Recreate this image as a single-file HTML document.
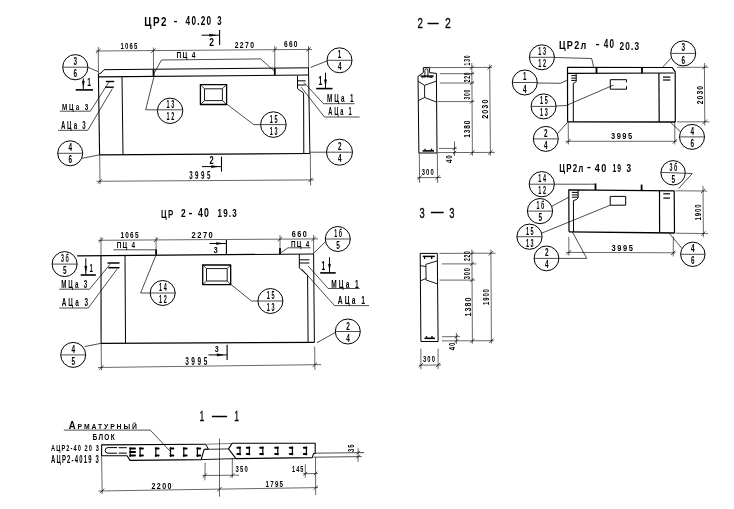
<!DOCTYPE html>
<html lang="ru"><head><meta charset="utf-8"><title>ЦР2</title>
<style>
html,body{margin:0;padding:0;background:#fff;}
svg{display:block;will-change:transform;font-family:"Liberation Sans",sans-serif;fill:#000;}
</style></head><body>
<svg width="734" height="509" viewBox="0 0 734 509">
<rect x="0" y="0" width="734" height="509" fill="#fff"/>
<text font-weight="bold"><tspan x="144.3" y="26.0" font-size="11.94" letter-spacing="1.79" textLength="23.7" lengthAdjust="spacingAndGlyphs">ЦР2</tspan> <tspan x="173.4" y="24.0" font-size="11.80" textLength="4.0" lengthAdjust="spacingAndGlyphs">-</tspan> <tspan x="185.6" y="25.0" font-size="13.53" letter-spacing="2.03" textLength="26.8" lengthAdjust="spacingAndGlyphs">40.20</tspan> <tspan x="217.2" y="25.0" font-size="12.95" textLength="4.3" lengthAdjust="spacingAndGlyphs">3</tspan></text>
<line x1="219.6" y1="30.0" x2="219.6" y2="45.0" stroke="#000" stroke-width="1.1"/>
<line x1="201.6" y1="35.2" x2="219.6" y2="35.2" stroke="#000" stroke-width="1.0"/>
<polygon points="209.6,34.1 209.6,36.3 215.6,35.2" fill="#000" stroke="#000" stroke-width="0.5" stroke-linejoin="round"/>
<text x="209.3" y="46.0" font-size="10.94" font-weight="bold" letter-spacing="2.19" textLength="6.4" lengthAdjust="spacingAndGlyphs">2</text>
<line x1="95.8" y1="51.0" x2="312.0" y2="49.4" stroke="#000" stroke-width="0.6"/>
<line x1="98.3" y1="47.0" x2="98.4" y2="74.0" stroke="#000" stroke-width="0.6"/>
<line x1="153.4" y1="47.5" x2="153.5" y2="70.0" stroke="#000" stroke-width="0.6"/>
<line x1="274.8" y1="46.0" x2="274.8" y2="68.5" stroke="#000" stroke-width="0.6"/>
<line x1="308.5" y1="46.0" x2="308.6" y2="68.0" stroke="#000" stroke-width="0.6"/>
<line x1="96.1" y1="53.2" x2="100.5" y2="48.8" stroke="#000" stroke-width="0.7"/>
<line x1="151.2" y1="52.8" x2="155.6" y2="48.4" stroke="#000" stroke-width="0.7"/>
<line x1="272.6" y1="51.9" x2="277.0" y2="47.5" stroke="#000" stroke-width="0.7"/>
<line x1="306.3" y1="51.6" x2="310.7" y2="47.2" stroke="#000" stroke-width="0.7"/>
<text x="120.4" y="49.0" font-size="9.35" font-weight="bold" letter-spacing="1.87" textLength="18.2" lengthAdjust="spacingAndGlyphs">1065</text>
<text x="234.7" y="48.0" font-size="9.06" font-weight="bold" letter-spacing="1.81" textLength="20.6" lengthAdjust="spacingAndGlyphs">2270</text>
<text x="284.0" y="47.0" font-size="9.06" font-weight="bold" letter-spacing="1.81" textLength="14.8" lengthAdjust="spacingAndGlyphs">660</text>
<polyline points="98.5,74.2 100.9,73.1 104.0,69.7 308.6,67.8" fill="none" stroke="#000" stroke-width="1.0" stroke-linejoin="round"/>
<line x1="98.4" y1="76.9" x2="308.6" y2="75.0" stroke="#000" stroke-width="1.2"/>
<line x1="98.4" y1="74.0" x2="99.6" y2="154.8" stroke="#000" stroke-width="1.1"/>
<line x1="122.0" y1="76.8" x2="123.0" y2="154.6" stroke="#000" stroke-width="1.0"/>
<line x1="99.6" y1="154.8" x2="310.0" y2="153.5" stroke="#000" stroke-width="1.2"/>
<line x1="303.6" y1="93.0" x2="303.8" y2="153.5" stroke="#000" stroke-width="1.0"/>
<line x1="308.5" y1="67.8" x2="309.9" y2="153.5" stroke="#000" stroke-width="1.0"/>
<line x1="297.5" y1="75.8" x2="297.5" y2="88.6" stroke="#000" stroke-width="1.0"/>
<line x1="297.5" y1="80.8" x2="305.6" y2="80.8" stroke="#000" stroke-width="1.0"/>
<line x1="297.5" y1="85.0" x2="305.6" y2="85.0" stroke="#000" stroke-width="1.0"/>
<line x1="297.5" y1="88.6" x2="303.5" y2="93.0" stroke="#000" stroke-width="1.0"/>
<line x1="153.5" y1="69.4" x2="153.6" y2="76.8" stroke="#000" stroke-width="1.8"/>
<line x1="274.8" y1="68.3" x2="274.8" y2="74.9" stroke="#000" stroke-width="1.8"/>
<text x="176.4" y="58.0" font-size="8.78" font-weight="bold" letter-spacing="1.76" textLength="20.4" lengthAdjust="spacingAndGlyphs">ПЦ 4</text>
<polyline points="153.9,73.7 161.5,60.0 260.6,58.9 273.9,70.7" fill="none" stroke="#000" stroke-width="0.7" stroke-linejoin="round"/>
<polygon points="200.4,84.6 226.6,84.6 226.6,104.5 200.4,104.5" fill="none" stroke="#000" stroke-width="1.3" stroke-linejoin="round"/>
<polygon points="204.5,88.8 222.4,88.8 222.4,100.6 204.5,100.6" fill="none" stroke="#000" stroke-width="0.9" stroke-linejoin="round"/>
<line x1="200.4" y1="84.6" x2="204.5" y2="88.8" stroke="#000" stroke-width="0.8"/>
<line x1="226.6" y1="84.6" x2="222.4" y2="88.8" stroke="#000" stroke-width="0.8"/>
<line x1="226.6" y1="104.5" x2="222.4" y2="100.6" stroke="#000" stroke-width="0.8"/>
<line x1="200.4" y1="104.5" x2="204.5" y2="100.6" stroke="#000" stroke-width="0.8"/>
<line x1="105.8" y1="81.5" x2="114.2" y2="81.5" stroke="#000" stroke-width="1.4"/>
<line x1="105.3" y1="87.2" x2="113.7" y2="87.2" stroke="#000" stroke-width="1.4"/>
<circle cx="75.3" cy="67.2" r="12.6" fill="none" stroke="#000" stroke-width="1.0"/>
<line x1="62.7" y1="67.2" x2="87.9" y2="67.2" stroke="#000" stroke-width="0.7"/>
<text x="73.6" y="65.0" font-size="10.50" font-weight="bold" letter-spacing="3.15" textLength="5.5" lengthAdjust="spacingAndGlyphs">3</text>
<text x="73.6" y="77.0" font-size="10.50" font-weight="bold" letter-spacing="3.15" textLength="5.5" lengthAdjust="spacingAndGlyphs">6</text>
<line x1="87.9" y1="67.3" x2="98.6" y2="71.8" stroke="#000" stroke-width="0.7"/>
<circle cx="339.5" cy="60.3" r="12.5" fill="none" stroke="#000" stroke-width="1.0"/>
<line x1="327.0" y1="60.3" x2="352.0" y2="60.3" stroke="#000" stroke-width="0.7"/>
<text x="337.8" y="58.0" font-size="10.50" font-weight="bold" letter-spacing="3.15" textLength="5.3" lengthAdjust="spacingAndGlyphs">1</text>
<text x="337.9" y="70.0" font-size="10.50" font-weight="bold" letter-spacing="3.15" textLength="5.5" lengthAdjust="spacingAndGlyphs">4</text>
<line x1="327.0" y1="61.0" x2="310.6" y2="67.4" stroke="#000" stroke-width="0.7"/>
<circle cx="170.1" cy="110.8" r="12.7" fill="none" stroke="#000" stroke-width="1.0"/>
<line x1="145.7" y1="109.8" x2="182.8" y2="109.8" stroke="#000" stroke-width="0.7"/>
<text x="166.5" y="108.0" font-size="10.50" font-weight="bold" letter-spacing="3.15" textLength="9.4" lengthAdjust="spacingAndGlyphs">13</text>
<text x="166.5" y="120.0" font-size="10.50" font-weight="bold" letter-spacing="3.15" textLength="9.4" lengthAdjust="spacingAndGlyphs">12</text>
<line x1="145.7" y1="109.7" x2="153.9" y2="76.8" stroke="#000" stroke-width="0.7"/>
<circle cx="273.4" cy="124.6" r="12.8" fill="none" stroke="#000" stroke-width="1.0"/>
<line x1="253.7" y1="124.6" x2="286.2" y2="124.6" stroke="#000" stroke-width="0.7"/>
<text x="269.8" y="123.0" font-size="10.50" font-weight="bold" letter-spacing="3.15" textLength="9.4" lengthAdjust="spacingAndGlyphs">15</text>
<text x="269.8" y="135.0" font-size="10.50" font-weight="bold" letter-spacing="3.15" textLength="9.4" lengthAdjust="spacingAndGlyphs">13</text>
<line x1="253.7" y1="124.6" x2="227.0" y2="104.3" stroke="#000" stroke-width="0.7"/>
<circle cx="70.2" cy="153.3" r="12.5" fill="none" stroke="#000" stroke-width="1.0"/>
<line x1="57.7" y1="153.3" x2="82.7" y2="153.3" stroke="#000" stroke-width="0.7"/>
<text x="68.5" y="151.0" font-size="10.50" font-weight="bold" letter-spacing="3.15" textLength="5.5" lengthAdjust="spacingAndGlyphs">4</text>
<text x="68.5" y="163.0" font-size="10.50" font-weight="bold" letter-spacing="3.15" textLength="5.5" lengthAdjust="spacingAndGlyphs">6</text>
<line x1="82.2" y1="158.3" x2="99.6" y2="154.8" stroke="#000" stroke-width="0.7"/>
<circle cx="339.5" cy="152.2" r="13.0" fill="none" stroke="#000" stroke-width="1.0"/>
<line x1="310.0" y1="152.2" x2="352.5" y2="152.2" stroke="#000" stroke-width="0.7"/>
<text x="337.9" y="150.0" font-size="10.50" font-weight="bold" letter-spacing="3.15" textLength="5.5" lengthAdjust="spacingAndGlyphs">2</text>
<text x="337.9" y="162.0" font-size="10.50" font-weight="bold" letter-spacing="3.15" textLength="5.5" lengthAdjust="spacingAndGlyphs">4</text>
<line x1="83.3" y1="78.4" x2="83.3" y2="89.9" stroke="#000" stroke-width="1.0"/>
<polygon points="82.2,81.1 84.4,81.1 83.3,86.1" fill="#000" stroke="#000" stroke-width="0.5" stroke-linejoin="round"/>
<line x1="75.7" y1="89.9" x2="93.0" y2="89.9" stroke="#000" stroke-width="1.6"/>
<text x="87.2" y="86.0" font-size="11.51" font-weight="bold" letter-spacing="2.30" textLength="5.0" lengthAdjust="spacingAndGlyphs">1</text>
<line x1="325.5" y1="72.7" x2="325.5" y2="88.6" stroke="#000" stroke-width="1.0"/>
<polygon points="324.4,79.8 326.6,79.8 325.5,84.8" fill="#000" stroke="#000" stroke-width="0.5" stroke-linejoin="round"/>
<line x1="316.2" y1="88.6" x2="332.5" y2="88.6" stroke="#000" stroke-width="1.6"/>
<text x="318.5" y="85.0" font-size="12.23" font-weight="bold" letter-spacing="2.45" textLength="5.1" lengthAdjust="spacingAndGlyphs">1</text>
<text x="62.0" y="110.0" font-size="9.50" font-weight="bold" letter-spacing="2.85" textLength="28.1" lengthAdjust="spacingAndGlyphs">МЦа 3</text>
<line x1="59.8" y1="111.2" x2="90.3" y2="111.2" stroke="#000" stroke-width="0.7"/>
<line x1="90.3" y1="111.2" x2="109.3" y2="81.5" stroke="#000" stroke-width="0.7"/>
<text x="60.9" y="129.0" font-size="10.50" font-weight="bold" letter-spacing="3.15" textLength="26.7" lengthAdjust="spacingAndGlyphs">АЦа 3</text>
<line x1="58.0" y1="130.3" x2="87.8" y2="130.3" stroke="#000" stroke-width="0.7"/>
<line x1="87.8" y1="130.2" x2="112.4" y2="88.6" stroke="#000" stroke-width="0.7"/>
<text x="327.0" y="102.0" font-size="10.07" font-weight="bold" letter-spacing="3.02" textLength="28.5" lengthAdjust="spacingAndGlyphs">МЦа 1</text>
<line x1="323.4" y1="103.7" x2="354.5" y2="103.7" stroke="#000" stroke-width="0.7"/>
<line x1="323.4" y1="103.7" x2="303.9" y2="82.4" stroke="#000" stroke-width="0.7"/>
<text x="328.3" y="115.0" font-size="10.50" font-weight="bold" letter-spacing="3.15" textLength="25.1" lengthAdjust="spacingAndGlyphs">АЦа 1</text>
<line x1="324.4" y1="117.0" x2="359.6" y2="117.0" stroke="#000" stroke-width="0.7"/>
<line x1="324.4" y1="117.0" x2="301.2" y2="87.2" stroke="#000" stroke-width="0.7"/>
<line x1="99.7" y1="154.8" x2="100.0" y2="184.2" stroke="#000" stroke-width="0.6"/>
<line x1="310.3" y1="153.5" x2="310.6" y2="185.5" stroke="#000" stroke-width="0.6"/>
<line x1="96.5" y1="181.3" x2="314.0" y2="179.9" stroke="#000" stroke-width="0.6"/>
<line x1="97.7" y1="183.5" x2="102.1" y2="179.1" stroke="#000" stroke-width="0.7"/>
<line x1="308.3" y1="182.2" x2="312.7" y2="177.8" stroke="#000" stroke-width="0.7"/>
<text x="189.2" y="179.0" font-size="10.07" font-weight="bold" letter-spacing="4.03" textLength="23.6" lengthAdjust="spacingAndGlyphs">3995</text>
<line x1="221.5" y1="156.6" x2="221.5" y2="171.6" stroke="#000" stroke-width="1.1"/>
<line x1="202.0" y1="166.6" x2="221.5" y2="166.6" stroke="#000" stroke-width="1.0"/>
<polygon points="211.5,165.5 211.5,167.7 217.5,166.6" fill="#000" stroke="#000" stroke-width="0.5" stroke-linejoin="round"/>
<text x="209.5" y="164.0" font-size="10.22" font-weight="bold" letter-spacing="2.04" textLength="5.6" lengthAdjust="spacingAndGlyphs">2</text>
<text font-weight="bold"><tspan x="161.1" y="218.0" font-size="11.51" letter-spacing="1.73" textLength="13.2" lengthAdjust="spacingAndGlyphs">ЦР</tspan> <tspan x="181.0" y="217.0" font-size="10.79" textLength="4.7" lengthAdjust="spacingAndGlyphs">2</tspan> <tspan x="188.4" y="216.0" font-size="11.22" textLength="4.0" lengthAdjust="spacingAndGlyphs">-</tspan> <tspan x="197.9" y="217.0" font-size="12.23" letter-spacing="1.83" textLength="12.4" lengthAdjust="spacingAndGlyphs">40</tspan> <tspan x="217.5" y="217.0" font-size="10.94" letter-spacing="1.64" textLength="20.5" lengthAdjust="spacingAndGlyphs">19.3</tspan></text>
<line x1="98.0" y1="240.3" x2="318.0" y2="238.9" stroke="#000" stroke-width="0.6"/>
<line x1="101.0" y1="237.0" x2="101.0" y2="255.8" stroke="#000" stroke-width="0.6"/>
<line x1="156.1" y1="237.0" x2="156.1" y2="250.0" stroke="#000" stroke-width="0.6"/>
<line x1="280.0" y1="235.0" x2="280.0" y2="248.0" stroke="#000" stroke-width="0.6"/>
<line x1="313.6" y1="235.0" x2="313.6" y2="254.0" stroke="#000" stroke-width="0.6"/>
<line x1="98.8" y1="242.5" x2="103.2" y2="238.1" stroke="#000" stroke-width="0.7"/>
<line x1="153.9" y1="242.2" x2="158.3" y2="237.8" stroke="#000" stroke-width="0.7"/>
<line x1="277.8" y1="241.4" x2="282.2" y2="237.0" stroke="#000" stroke-width="0.7"/>
<line x1="311.4" y1="241.2" x2="315.8" y2="236.8" stroke="#000" stroke-width="0.7"/>
<line x1="156.1" y1="249.5" x2="156.1" y2="254.8" stroke="#000" stroke-width="1.8"/>
<line x1="280.0" y1="248.0" x2="280.0" y2="254.0" stroke="#000" stroke-width="1.8"/>
<text x="120.4" y="238.0" font-size="9.21" font-weight="bold" letter-spacing="1.84" textLength="19.4" lengthAdjust="spacingAndGlyphs">1065</text>
<text x="191.6" y="238.0" font-size="9.21" font-weight="bold" letter-spacing="1.84" textLength="22.7" lengthAdjust="spacingAndGlyphs">2270</text>
<text x="291.8" y="237.0" font-size="9.35" font-weight="bold" letter-spacing="1.87" textLength="16.3" lengthAdjust="spacingAndGlyphs">660</text>
<text x="116.7" y="248.0" font-size="9.35" font-weight="bold" letter-spacing="1.87" textLength="19.6" lengthAdjust="spacingAndGlyphs">ПЦ 4</text>
<line x1="113.4" y1="249.8" x2="156.1" y2="249.8" stroke="#000" stroke-width="0.7"/>
<text x="291.0" y="247.0" font-size="8.63" font-weight="bold" letter-spacing="1.73" textLength="19.6" lengthAdjust="spacingAndGlyphs">ПЦ 4</text>
<line x1="288.0" y1="247.8" x2="310.6" y2="247.8" stroke="#000" stroke-width="0.7"/>
<line x1="288.0" y1="247.8" x2="280.0" y2="253.3" stroke="#000" stroke-width="0.7"/>
<line x1="226.4" y1="240.0" x2="226.4" y2="254.0" stroke="#000" stroke-width="1.1"/>
<line x1="209.5" y1="243.5" x2="226.4" y2="243.5" stroke="#000" stroke-width="1.0"/>
<polygon points="216.4,242.4 216.4,244.6 222.4,243.5" fill="#000" stroke="#000" stroke-width="0.5" stroke-linejoin="round"/>
<text x="213.4" y="253.0" font-size="9.78" font-weight="bold" letter-spacing="1.96" textLength="5.8" lengthAdjust="spacingAndGlyphs">3</text>
<line x1="77.1" y1="255.9" x2="313.6" y2="254.0" stroke="#000" stroke-width="1.2"/>
<line x1="101.0" y1="255.8" x2="101.1" y2="343.3" stroke="#000" stroke-width="1.1"/>
<line x1="125.0" y1="255.6" x2="125.5" y2="343.2" stroke="#000" stroke-width="1.0"/>
<line x1="101.0" y1="343.3" x2="314.4" y2="342.3" stroke="#000" stroke-width="1.2"/>
<line x1="307.6" y1="275.4" x2="308.1" y2="342.3" stroke="#000" stroke-width="1.0"/>
<line x1="313.6" y1="254.0" x2="314.4" y2="342.3" stroke="#000" stroke-width="1.0"/>
<line x1="299.3" y1="254.0" x2="299.3" y2="267.9" stroke="#000" stroke-width="1.0"/>
<line x1="299.3" y1="259.8" x2="309.4" y2="259.8" stroke="#000" stroke-width="1.0"/>
<line x1="299.3" y1="263.0" x2="309.4" y2="263.0" stroke="#000" stroke-width="1.0"/>
<line x1="299.3" y1="267.9" x2="307.6" y2="275.4" stroke="#000" stroke-width="1.0"/>
<line x1="107.5" y1="263.0" x2="119.5" y2="263.0" stroke="#000" stroke-width="1.5"/>
<line x1="108.3" y1="267.7" x2="119.5" y2="267.7" stroke="#000" stroke-width="1.5"/>
<circle cx="64.6" cy="264.1" r="12.5" fill="none" stroke="#000" stroke-width="1.0"/>
<line x1="52.1" y1="264.1" x2="77.1" y2="264.1" stroke="#000" stroke-width="0.7"/>
<text x="61.0" y="262.0" font-size="10.50" font-weight="bold" letter-spacing="3.15" textLength="9.4" lengthAdjust="spacingAndGlyphs">3б</text>
<text x="62.9" y="274.0" font-size="10.50" font-weight="bold" letter-spacing="3.15" textLength="5.5" lengthAdjust="spacingAndGlyphs">5</text>
<line x1="85.8" y1="258.3" x2="85.8" y2="275.0" stroke="#000" stroke-width="1.0"/>
<polygon points="84.7,266.2 86.9,266.2 85.8,271.2" fill="#000" stroke="#000" stroke-width="0.5" stroke-linejoin="round"/>
<line x1="80.7" y1="275.0" x2="95.8" y2="275.0" stroke="#000" stroke-width="1.6"/>
<text x="89.4" y="272.0" font-size="10.50" font-weight="bold" letter-spacing="2.10" textLength="4.6" lengthAdjust="spacingAndGlyphs">1</text>
<text x="61.2" y="288.0" font-size="10.22" font-weight="bold" letter-spacing="3.06" textLength="28.0" lengthAdjust="spacingAndGlyphs">МЦа 3</text>
<line x1="59.2" y1="289.2" x2="89.5" y2="289.2" stroke="#000" stroke-width="0.7"/>
<line x1="89.5" y1="289.2" x2="110.1" y2="264.2" stroke="#000" stroke-width="0.7"/>
<text x="61.8" y="306.0" font-size="11.37" font-weight="bold" letter-spacing="3.41" textLength="28.1" lengthAdjust="spacingAndGlyphs">АЦа 3</text>
<line x1="59.2" y1="308.0" x2="88.3" y2="308.0" stroke="#000" stroke-width="0.7"/>
<line x1="88.3" y1="308.0" x2="117.2" y2="268.9" stroke="#000" stroke-width="0.7"/>
<circle cx="162.7" cy="293.0" r="12.5" fill="none" stroke="#000" stroke-width="1.0"/>
<line x1="140.6" y1="293.0" x2="175.2" y2="293.0" stroke="#000" stroke-width="0.7"/>
<text x="159.1" y="291.0" font-size="10.50" font-weight="bold" letter-spacing="3.15" textLength="9.4" lengthAdjust="spacingAndGlyphs">14</text>
<text x="159.1" y="303.0" font-size="10.50" font-weight="bold" letter-spacing="3.15" textLength="9.4" lengthAdjust="spacingAndGlyphs">12</text>
<line x1="140.6" y1="293.0" x2="156.1" y2="254.8" stroke="#000" stroke-width="0.7"/>
<polygon points="202.7,265.0 230.7,265.0 230.7,284.6 202.7,284.6" fill="none" stroke="#000" stroke-width="1.3" stroke-linejoin="round"/>
<polygon points="206.5,268.6 227.2,268.6 227.2,281.0 206.5,281.0" fill="none" stroke="#000" stroke-width="0.9" stroke-linejoin="round"/>
<line x1="202.7" y1="265.0" x2="206.5" y2="268.6" stroke="#000" stroke-width="0.8"/>
<line x1="230.7" y1="265.0" x2="227.2" y2="268.6" stroke="#000" stroke-width="0.8"/>
<line x1="230.7" y1="284.6" x2="227.2" y2="281.0" stroke="#000" stroke-width="0.8"/>
<line x1="202.7" y1="284.6" x2="206.5" y2="281.0" stroke="#000" stroke-width="0.8"/>
<circle cx="270.4" cy="301.0" r="12.5" fill="none" stroke="#000" stroke-width="1.0"/>
<line x1="251.5" y1="301.0" x2="282.9" y2="301.0" stroke="#000" stroke-width="0.7"/>
<text x="266.8" y="299.0" font-size="10.50" font-weight="bold" letter-spacing="3.15" textLength="9.4" lengthAdjust="spacingAndGlyphs">15</text>
<text x="266.8" y="311.0" font-size="10.50" font-weight="bold" letter-spacing="3.15" textLength="9.4" lengthAdjust="spacingAndGlyphs">13</text>
<line x1="251.5" y1="301.0" x2="230.4" y2="284.0" stroke="#000" stroke-width="0.7"/>
<circle cx="337.8" cy="239.0" r="12.5" fill="none" stroke="#000" stroke-width="1.0"/>
<line x1="325.3" y1="239.0" x2="350.3" y2="239.0" stroke="#000" stroke-width="0.7"/>
<text x="334.2" y="237.0" font-size="10.50" font-weight="bold" letter-spacing="3.15" textLength="9.4" lengthAdjust="spacingAndGlyphs">1б</text>
<text x="336.2" y="249.0" font-size="10.50" font-weight="bold" letter-spacing="3.15" textLength="5.5" lengthAdjust="spacingAndGlyphs">5</text>
<line x1="325.7" y1="241.5" x2="313.6" y2="253.3" stroke="#000" stroke-width="0.7"/>
<line x1="329.5" y1="257.3" x2="329.5" y2="272.9" stroke="#000" stroke-width="1.0"/>
<polygon points="328.4,264.1 330.6,264.1 329.5,269.1" fill="#000" stroke="#000" stroke-width="0.5" stroke-linejoin="round"/>
<line x1="320.2" y1="272.9" x2="335.7" y2="272.9" stroke="#000" stroke-width="1.6"/>
<text x="321.5" y="270.0" font-size="12.37" font-weight="bold" letter-spacing="2.47" textLength="5.0" lengthAdjust="spacingAndGlyphs">1</text>
<text x="331.2" y="288.0" font-size="10.79" font-weight="bold" letter-spacing="3.24" textLength="29.5" lengthAdjust="spacingAndGlyphs">МЦа 1</text>
<line x1="328.2" y1="288.5" x2="359.6" y2="288.5" stroke="#000" stroke-width="0.7"/>
<line x1="328.2" y1="288.5" x2="308.0" y2="265.9" stroke="#000" stroke-width="0.7"/>
<text x="337.8" y="304.0" font-size="11.51" font-weight="bold" letter-spacing="3.45" textLength="29.3" lengthAdjust="spacingAndGlyphs">АЦа 1</text>
<line x1="334.5" y1="305.6" x2="369.0" y2="305.6" stroke="#000" stroke-width="0.7"/>
<line x1="334.5" y1="305.6" x2="301.8" y2="269.0" stroke="#000" stroke-width="0.7"/>
<circle cx="73.2" cy="354.9" r="12.5" fill="none" stroke="#000" stroke-width="1.0"/>
<line x1="60.7" y1="354.9" x2="85.7" y2="354.9" stroke="#000" stroke-width="0.7"/>
<text x="71.5" y="353.0" font-size="10.50" font-weight="bold" letter-spacing="3.15" textLength="5.5" lengthAdjust="spacingAndGlyphs">4</text>
<text x="71.5" y="365.0" font-size="10.50" font-weight="bold" letter-spacing="3.15" textLength="5.5" lengthAdjust="spacingAndGlyphs">5</text>
<line x1="84.7" y1="346.6" x2="101.0" y2="343.3" stroke="#000" stroke-width="0.7"/>
<circle cx="347.8" cy="331.5" r="12.5" fill="none" stroke="#000" stroke-width="1.0"/>
<line x1="335.3" y1="331.5" x2="360.3" y2="331.5" stroke="#000" stroke-width="0.7"/>
<text x="346.2" y="330.0" font-size="10.50" font-weight="bold" letter-spacing="3.15" textLength="5.5" lengthAdjust="spacingAndGlyphs">2</text>
<text x="346.2" y="342.0" font-size="10.50" font-weight="bold" letter-spacing="3.15" textLength="5.5" lengthAdjust="spacingAndGlyphs">4</text>
<line x1="335.7" y1="332.2" x2="316.9" y2="342.8" stroke="#000" stroke-width="0.7"/>
<line x1="101.2" y1="343.3" x2="101.4" y2="370.4" stroke="#000" stroke-width="0.6"/>
<line x1="314.7" y1="346.6" x2="314.9" y2="369.9" stroke="#000" stroke-width="0.6"/>
<line x1="98.0" y1="367.5" x2="321.2" y2="364.6" stroke="#000" stroke-width="0.6"/>
<line x1="99.2" y1="369.7" x2="103.6" y2="365.3" stroke="#000" stroke-width="0.7"/>
<line x1="312.7" y1="366.9" x2="317.1" y2="362.5" stroke="#000" stroke-width="0.7"/>
<text x="185.2" y="365.0" font-size="10.36" font-weight="bold" letter-spacing="4.14" textLength="24.7" lengthAdjust="spacingAndGlyphs">3995</text>
<line x1="227.1" y1="344.8" x2="227.1" y2="359.9" stroke="#000" stroke-width="1.1"/>
<line x1="208.5" y1="354.9" x2="227.1" y2="354.9" stroke="#000" stroke-width="1.0"/>
<polygon points="217.1,353.8 217.1,356.0 223.1,354.9" fill="#000" stroke="#000" stroke-width="0.5" stroke-linejoin="round"/>
<text x="214.8" y="352.0" font-size="9.21" font-weight="bold" letter-spacing="1.84" textLength="5.4" lengthAdjust="spacingAndGlyphs">3</text>
<text font-weight="normal" stroke="#000" stroke-width="0.3"><tspan x="199.6" y="421.0" font-size="14.24" textLength="4.8" lengthAdjust="spacingAndGlyphs">1</tspan> <tspan x="212.0" y="420.0" font-size="14.24" textLength="15.0" lengthAdjust="spacingAndGlyphs">—</tspan> <tspan x="234.2" y="421.0" font-size="14.24" textLength="4.8" lengthAdjust="spacingAndGlyphs">1</tspan></text>
<text x="68.8" y="429.0" style="font-variant:small-caps" font-size="11.22" font-weight="bold" letter-spacing="2.24" textLength="70.0" lengthAdjust="spacingAndGlyphs">Арматурный</text>
<line x1="63.8" y1="430.1" x2="150.3" y2="430.1" stroke="#000" stroke-width="0.7"/>
<line x1="150.3" y1="430.1" x2="170.3" y2="451.4" stroke="#000" stroke-width="0.7"/>
<text x="92.6" y="440.0" font-size="9.21" font-weight="bold" letter-spacing="1.84" textLength="23.4" lengthAdjust="spacingAndGlyphs">БЛОК</text>
<text x="51.0" y="451.0" font-size="9.93" font-weight="bold" letter-spacing="1.99" textLength="49.0" lengthAdjust="spacingAndGlyphs">АЦР2-40 20 3</text>
<text x="51.0" y="463.0" font-size="10.07" font-weight="bold" letter-spacing="2.01" textLength="49.0" lengthAdjust="spacingAndGlyphs">АЦР2-4019 3</text>
<polyline points="205.5,444.3 101.6,444.9 101.6,455.8 127.1,455.8 130.0,460.4 201.2,459.6 204.1,449.4" fill="none" stroke="#000" stroke-width="1.1" stroke-linejoin="round"/>
<polyline points="205.5,444.3 208.4,448.9 204.1,449.4" fill="none" stroke="#000" stroke-width="1.0" stroke-linejoin="round"/>
<line x1="204.1" y1="449.4" x2="228.6" y2="448.9" stroke="#000" stroke-width="0.8"/>
<line x1="201.2" y1="459.6" x2="236.0" y2="458.6" stroke="#000" stroke-width="0.9"/>
<line x1="205.5" y1="444.3" x2="232.2" y2="443.4" stroke="#000" stroke-width="0.5"/>
<path d="M117,447.6 H108 a2.8,2.8 0 0 0 0,5.6 H117 M118.6,447.7 H126.8 M118.6,453.1 H126.8" fill="none" stroke="#000" stroke-width="1.0"/>
<path d="M130.2,447.2 V457.0" fill="none" stroke="#000" stroke-width="1.2"/>
<path d="M130.2,448.4 h4.8 M130.2,455.6 h4.8 M130.2,452.1 h4.8" fill="none" stroke="#000" stroke-width="2.0" stroke-linecap="round"/>
<path d="M140.1,447.2 V457.0" fill="none" stroke="#000" stroke-width="1.2"/>
<path d="M140.1,448.4 h2.8 M140.1,455.6 h2.8" fill="none" stroke="#000" stroke-width="2.0" stroke-linecap="round"/>
<path d="M155.8,447.2 V457.0" fill="none" stroke="#000" stroke-width="1.2"/>
<path d="M155.8,448.4 h2.8 M155.8,455.6 h2.8" fill="none" stroke="#000" stroke-width="2.0" stroke-linecap="round"/>
<path d="M170.5,447.2 V457.0" fill="none" stroke="#000" stroke-width="1.2"/>
<path d="M170.5,448.4 h2.8 M170.5,455.6 h2.8" fill="none" stroke="#000" stroke-width="2.0" stroke-linecap="round"/>
<path d="M183.8,447.2 V457.0" fill="none" stroke="#000" stroke-width="1.2"/>
<path d="M183.8,448.4 h2.8 M183.8,455.6 h2.8" fill="none" stroke="#000" stroke-width="2.0" stroke-linecap="round"/>
<path d="M197.4,447.2 V457.0" fill="none" stroke="#000" stroke-width="1.2"/>
<path d="M197.4,448.4 h2.8 M197.4,455.6 h2.8" fill="none" stroke="#000" stroke-width="2.0" stroke-linecap="round"/>
<polyline points="232.2,443.3 315.2,443.2 315.2,453.2 313.6,453.6 312.2,457.6 236.0,458.6 228.5,448.9 232.2,443.3" fill="none" stroke="#000" stroke-width="1.1" stroke-linejoin="round"/>
<path d="M240.0,446.6 V455.2" fill="none" stroke="#000" stroke-width="1.2"/>
<path d="M240.0,447.8 h-2.6 M240.0,453.9 h-2.6" fill="none" stroke="#000" stroke-width="2.0" stroke-linecap="round"/>
<path d="M249.4,446.6 V455.2" fill="none" stroke="#000" stroke-width="1.2"/>
<path d="M249.4,447.8 h-2.6 M249.4,453.9 h-2.6" fill="none" stroke="#000" stroke-width="2.0" stroke-linecap="round"/>
<path d="M262.8,446.6 V455.2" fill="none" stroke="#000" stroke-width="1.2"/>
<path d="M262.8,447.8 h-2.6 M262.8,453.9 h-2.6" fill="none" stroke="#000" stroke-width="2.0" stroke-linecap="round"/>
<path d="M277.8,446.6 V455.2" fill="none" stroke="#000" stroke-width="1.2"/>
<path d="M277.8,447.8 h-2.6 M277.8,453.9 h-2.6" fill="none" stroke="#000" stroke-width="2.0" stroke-linecap="round"/>
<path d="M292.4,446.6 V455.2" fill="none" stroke="#000" stroke-width="1.2"/>
<path d="M292.4,447.8 h-2.6 M292.4,453.9 h-2.6" fill="none" stroke="#000" stroke-width="2.0" stroke-linecap="round"/>
<path d="M306.4,446.6 V455.2" fill="none" stroke="#000" stroke-width="1.2"/>
<path d="M306.4,447.8 h-2.6 M306.4,453.9 h-2.6" fill="none" stroke="#000" stroke-width="2.0" stroke-linecap="round"/>
<line x1="219.5" y1="438.6" x2="219.5" y2="496.7" stroke="#000" stroke-width="0.6"/>
<line x1="315.2" y1="453.2" x2="364.2" y2="452.6" stroke="#000" stroke-width="0.7"/>
<line x1="313.5" y1="457.2" x2="361.7" y2="456.6" stroke="#000" stroke-width="0.7"/>
<line x1="358.1" y1="448.4" x2="358.1" y2="461.9" stroke="#000" stroke-width="0.6"/>
<line x1="356.3" y1="454.5" x2="359.9" y2="450.9" stroke="#000" stroke-width="0.7"/>
<line x1="356.3" y1="458.4" x2="359.9" y2="454.8" stroke="#000" stroke-width="0.7"/>
<text transform="translate(354.0,452.0) rotate(-90)" x="0" y="0" font-size="9.06" font-weight="bold" letter-spacing="1.36" textLength="8.3" lengthAdjust="spacingAndGlyphs">35</text>
<line x1="101.6" y1="456.2" x2="102.2" y2="494.0" stroke="#000" stroke-width="0.6"/>
<line x1="205.2" y1="462.7" x2="204.9" y2="480.3" stroke="#000" stroke-width="0.6"/>
<line x1="232.3" y1="458.0" x2="232.3" y2="477.8" stroke="#000" stroke-width="0.6"/>
<line x1="202.4" y1="475.5" x2="239.1" y2="475.2" stroke="#000" stroke-width="0.6"/>
<line x1="202.7" y1="477.7" x2="207.1" y2="473.3" stroke="#000" stroke-width="0.7"/>
<line x1="230.1" y1="477.5" x2="234.5" y2="473.1" stroke="#000" stroke-width="0.7"/>
<text x="235.5" y="472.0" font-size="8.78" font-weight="bold" letter-spacing="1.76" textLength="13.4" lengthAdjust="spacingAndGlyphs">350</text>
<text x="291.9" y="472.0" font-size="8.78" font-weight="bold" letter-spacing="1.76" textLength="12.7" lengthAdjust="spacingAndGlyphs">145</text>
<line x1="305.3" y1="464.3" x2="305.3" y2="477.8" stroke="#000" stroke-width="0.6"/>
<line x1="302.9" y1="473.7" x2="317.8" y2="473.5" stroke="#000" stroke-width="0.6"/>
<line x1="303.5" y1="475.5" x2="307.1" y2="471.9" stroke="#000" stroke-width="0.7"/>
<line x1="313.7" y1="475.3" x2="317.3" y2="471.7" stroke="#000" stroke-width="0.7"/>
<line x1="315.5" y1="457.5" x2="315.7" y2="495.0" stroke="#000" stroke-width="0.6"/>
<line x1="98.5" y1="491.0" x2="318.0" y2="487.6" stroke="#000" stroke-width="0.6"/>
<line x1="100.0" y1="493.1" x2="104.4" y2="488.7" stroke="#000" stroke-width="0.7"/>
<line x1="217.3" y1="491.4" x2="221.7" y2="487.0" stroke="#000" stroke-width="0.7"/>
<line x1="313.5" y1="489.9" x2="317.9" y2="485.5" stroke="#000" stroke-width="0.7"/>
<text x="151.5" y="489.0" font-size="9.50" font-weight="bold" letter-spacing="1.90" textLength="21.4" lengthAdjust="spacingAndGlyphs">2200</text>
<text x="265.6" y="487.0" font-size="9.35" font-weight="bold" letter-spacing="1.87" textLength="18.7" lengthAdjust="spacingAndGlyphs">1795</text>
<text font-weight="normal" stroke="#000" stroke-width="0.3"><tspan x="417.5" y="28.0" font-size="14.24" textLength="5.4" lengthAdjust="spacingAndGlyphs">2</tspan> <tspan x="427.8" y="27.0" font-size="14.24" textLength="10.8" lengthAdjust="spacingAndGlyphs">—</tspan> <tspan x="445.1" y="28.0" font-size="14.24" textLength="5.8" lengthAdjust="spacingAndGlyphs">2</tspan></text>
<polyline points="423.3,72.6 423.3,67.6 429.4,67.6 429.4,72.6 436.4,73.4 437.0,153.0 418.9,153.0 418.0,76.4 423.3,72.6" fill="none" stroke="#000" stroke-width="1.0" stroke-linejoin="round"/>
<polyline points="418.1,81.2 424.6,85.4 436.5,81.0" fill="none" stroke="#000" stroke-width="0.9" stroke-linejoin="round"/>
<line x1="424.6" y1="85.4" x2="424.6" y2="97.5" stroke="#000" stroke-width="0.9"/>
<polyline points="418.3,100.6 424.6,97.5 436.7,102.1" fill="none" stroke="#000" stroke-width="0.9" stroke-linejoin="round"/>
<line x1="420.5" y1="76.1" x2="433.6" y2="76.1" stroke="#000" stroke-width="1.5"/>
<path d="M424.9,78 V70.3 a1.5,1.5 0 0 1 3,0 V78" fill="none" stroke="#000" stroke-width="0.9"/>
<line x1="421.5" y1="77.2" x2="423.5" y2="77.2" stroke="#000" stroke-width="1.2"/>
<line x1="429.5" y1="77.2" x2="432.5" y2="77.2" stroke="#000" stroke-width="1.2"/>
<line x1="422.6" y1="150.9" x2="434.0" y2="150.9" stroke="#000" stroke-width="1.6"/>
<line x1="424.4" y1="149.5" x2="425.8" y2="149.5" stroke="#000" stroke-width="1.6"/>
<line x1="430.8" y1="149.5" x2="432.2" y2="149.5" stroke="#000" stroke-width="1.6"/>
<line x1="429.4" y1="67.6" x2="492.0" y2="67.4" stroke="#000" stroke-width="0.6"/>
<line x1="439.8" y1="73.7" x2="474.2" y2="73.7" stroke="#000" stroke-width="0.6"/>
<line x1="439.8" y1="83.0" x2="474.2" y2="83.0" stroke="#000" stroke-width="0.6"/>
<line x1="437.5" y1="101.6" x2="474.2" y2="101.6" stroke="#000" stroke-width="0.6"/>
<line x1="471.8" y1="63.0" x2="472.4" y2="155.7" stroke="#000" stroke-width="0.6"/>
<line x1="489.7" y1="64.5" x2="490.4" y2="155.7" stroke="#000" stroke-width="0.6"/>
<line x1="470.0" y1="69.4" x2="473.8" y2="65.6" stroke="#000" stroke-width="0.7"/>
<line x1="470.0" y1="75.6" x2="473.8" y2="71.8" stroke="#000" stroke-width="0.7"/>
<line x1="470.0" y1="84.9" x2="473.8" y2="81.1" stroke="#000" stroke-width="0.7"/>
<line x1="470.0" y1="103.5" x2="473.8" y2="99.7" stroke="#000" stroke-width="0.7"/>
<line x1="487.5" y1="69.6" x2="491.9" y2="65.2" stroke="#000" stroke-width="0.7"/>
<line x1="470.2" y1="154.7" x2="474.6" y2="150.3" stroke="#000" stroke-width="0.7"/>
<line x1="488.2" y1="154.7" x2="492.6" y2="150.3" stroke="#000" stroke-width="0.7"/>
<text transform="translate(470.0,65.4) rotate(-90)" x="0" y="0" font-size="9.35" font-weight="bold" letter-spacing="1.40" textLength="10.6" lengthAdjust="spacingAndGlyphs">130</text>
<text transform="translate(470.0,82.3) rotate(-90)" x="0" y="0" font-size="9.35" font-weight="bold" letter-spacing="1.40" textLength="10.6" lengthAdjust="spacingAndGlyphs">220</text>
<text transform="translate(470.0,99.5) rotate(-90)" x="0" y="0" font-size="9.35" font-weight="bold" letter-spacing="1.40" textLength="10.6" lengthAdjust="spacingAndGlyphs">300</text>
<text transform="translate(488.0,118.8) rotate(-90)" x="0" y="0" font-size="9.35" font-weight="bold" letter-spacing="1.40" textLength="20.3" lengthAdjust="spacingAndGlyphs">2030</text>
<text transform="translate(470.0,137.8) rotate(-90)" x="0" y="0" font-size="9.93" font-weight="bold" letter-spacing="1.49" textLength="18.2" lengthAdjust="spacingAndGlyphs">1380</text>
<line x1="439.0" y1="148.4" x2="457.0" y2="148.4" stroke="#000" stroke-width="0.6"/>
<line x1="437.7" y1="152.6" x2="494.8" y2="152.4" stroke="#000" stroke-width="0.6"/>
<line x1="454.5" y1="141.3" x2="454.5" y2="156.0" stroke="#000" stroke-width="0.6"/>
<line x1="452.8" y1="150.1" x2="456.2" y2="146.7" stroke="#000" stroke-width="0.7"/>
<line x1="452.8" y1="154.2" x2="456.2" y2="150.8" stroke="#000" stroke-width="0.7"/>
<text transform="translate(452.0,163.0) rotate(-90)" x="0" y="0" font-size="8.78" font-weight="bold" letter-spacing="1.32" textLength="8.7" lengthAdjust="spacingAndGlyphs">40</text>
<line x1="419.3" y1="153.2" x2="419.6" y2="182.9" stroke="#000" stroke-width="0.6"/>
<line x1="437.3" y1="153.2" x2="437.7" y2="182.9" stroke="#000" stroke-width="0.6"/>
<line x1="417.0" y1="177.7" x2="441.0" y2="177.5" stroke="#000" stroke-width="0.6"/>
<line x1="417.4" y1="179.9" x2="421.8" y2="175.5" stroke="#000" stroke-width="0.7"/>
<line x1="435.5" y1="179.7" x2="439.9" y2="175.3" stroke="#000" stroke-width="0.7"/>
<text x="421.7" y="175.0" font-size="8.92" font-weight="bold" letter-spacing="1.78" textLength="13.1" lengthAdjust="spacingAndGlyphs">300</text>
<text font-weight="normal" stroke="#000" stroke-width="0.3"><tspan x="419.4" y="218.0" font-size="13.81" textLength="5.2" lengthAdjust="spacingAndGlyphs">3</tspan> <tspan x="431.0" y="216.0" font-size="13.81" textLength="12.5" lengthAdjust="spacingAndGlyphs">—</tspan> <tspan x="449.2" y="218.0" font-size="13.81" textLength="5.2" lengthAdjust="spacingAndGlyphs">3</tspan></text>
<polyline points="420.2,253.4 437.3,253.4 438.1,341.5 420.9,341.5 420.2,253.4" fill="none" stroke="#000" stroke-width="1.0" stroke-linejoin="round"/>
<line x1="422.8" y1="256.4" x2="434.8" y2="256.4" stroke="#000" stroke-width="1.5"/>
<line x1="424.6" y1="257.0" x2="424.6" y2="259.0" stroke="#000" stroke-width="1.3"/>
<line x1="431.7" y1="257.0" x2="431.7" y2="259.0" stroke="#000" stroke-width="1.3"/>
<polyline points="437.3,260.9 425.9,264.3 426.1,280.0 437.4,283.9" fill="none" stroke="#000" stroke-width="0.9" stroke-linejoin="round"/>
<polyline points="420.2,265.6 425.9,266.6" fill="none" stroke="#000" stroke-width="0.9" stroke-linejoin="round"/>
<line x1="426.1" y1="278.5" x2="420.3" y2="280.9" stroke="#000" stroke-width="0.9"/>
<line x1="424.5" y1="338.3" x2="434.9" y2="338.3" stroke="#000" stroke-width="1.6"/>
<line x1="425.8" y1="336.9" x2="427.2" y2="336.9" stroke="#000" stroke-width="1.6"/>
<line x1="431.3" y1="336.9" x2="432.7" y2="336.9" stroke="#000" stroke-width="1.6"/>
<line x1="439.4" y1="253.4" x2="495.5" y2="253.2" stroke="#000" stroke-width="0.6"/>
<line x1="441.9" y1="263.9" x2="476.5" y2="263.9" stroke="#000" stroke-width="0.6"/>
<line x1="439.4" y1="280.1" x2="474.9" y2="280.1" stroke="#000" stroke-width="0.6"/>
<line x1="471.9" y1="249.6" x2="472.4" y2="343.6" stroke="#000" stroke-width="0.6"/>
<line x1="490.9" y1="249.6" x2="491.4" y2="343.6" stroke="#000" stroke-width="0.6"/>
<line x1="470.1" y1="255.3" x2="473.9" y2="251.5" stroke="#000" stroke-width="0.7"/>
<line x1="470.1" y1="265.8" x2="473.9" y2="262.0" stroke="#000" stroke-width="0.7"/>
<line x1="470.1" y1="282.0" x2="473.9" y2="278.2" stroke="#000" stroke-width="0.7"/>
<line x1="488.7" y1="255.5" x2="493.1" y2="251.1" stroke="#000" stroke-width="0.7"/>
<line x1="470.2" y1="343.0" x2="474.6" y2="338.6" stroke="#000" stroke-width="0.7"/>
<line x1="489.2" y1="343.0" x2="493.6" y2="338.6" stroke="#000" stroke-width="0.7"/>
<text transform="translate(470.0,261.0) rotate(-90)" x="0" y="0" font-size="9.35" font-weight="bold" letter-spacing="1.40" textLength="10.6" lengthAdjust="spacingAndGlyphs">220</text>
<text transform="translate(470.0,279.3) rotate(-90)" x="0" y="0" font-size="9.35" font-weight="bold" letter-spacing="1.40" textLength="12.1" lengthAdjust="spacingAndGlyphs">300</text>
<text transform="translate(471.0,316.4) rotate(-90)" x="0" y="0" font-size="9.64" font-weight="bold" letter-spacing="1.45" textLength="20.0" lengthAdjust="spacingAndGlyphs">1380</text>
<text transform="translate(489.0,304.9) rotate(-90)" x="0" y="0" font-size="9.93" font-weight="bold" letter-spacing="1.49" textLength="16.7" lengthAdjust="spacingAndGlyphs">1900</text>
<line x1="441.9" y1="336.7" x2="460.0" y2="336.7" stroke="#000" stroke-width="0.6"/>
<line x1="441.9" y1="340.9" x2="493.9" y2="340.7" stroke="#000" stroke-width="0.6"/>
<line x1="456.4" y1="332.9" x2="456.4" y2="344.0" stroke="#000" stroke-width="0.6"/>
<line x1="454.7" y1="338.4" x2="458.1" y2="335.0" stroke="#000" stroke-width="0.7"/>
<line x1="454.7" y1="342.5" x2="458.1" y2="339.1" stroke="#000" stroke-width="0.7"/>
<text transform="translate(455.0,350.2) rotate(-90)" x="0" y="0" font-size="8.35" font-weight="bold" letter-spacing="1.25" textLength="8.5" lengthAdjust="spacingAndGlyphs">40</text>
<line x1="420.9" y1="348.6" x2="420.9" y2="369.2" stroke="#000" stroke-width="0.6"/>
<line x1="438.1" y1="348.6" x2="438.1" y2="369.2" stroke="#000" stroke-width="0.6"/>
<line x1="418.8" y1="365.2" x2="441.0" y2="365.0" stroke="#000" stroke-width="0.6"/>
<line x1="418.7" y1="367.4" x2="423.1" y2="363.0" stroke="#000" stroke-width="0.7"/>
<line x1="435.9" y1="367.2" x2="440.3" y2="362.8" stroke="#000" stroke-width="0.7"/>
<text x="422.9" y="362.0" font-size="8.92" font-weight="bold" letter-spacing="1.78" textLength="13.2" lengthAdjust="spacingAndGlyphs">300</text>
<text font-weight="bold"><tspan x="558.9" y="49.0" font-size="11.08" letter-spacing="1.66" textLength="28.8" lengthAdjust="spacingAndGlyphs">ЦР2л</tspan> <tspan x="595.6" y="47.0" font-size="11.22" textLength="4.1" lengthAdjust="spacingAndGlyphs">-</tspan> <tspan x="603.8" y="48.0" font-size="12.66" letter-spacing="1.90" textLength="11.5" lengthAdjust="spacingAndGlyphs">40</tspan> <tspan x="619.5" y="50.0" font-size="11.80" letter-spacing="1.77" textLength="20.9" lengthAdjust="spacingAndGlyphs">20.3</tspan></text>
<polyline points="567.6,121.8 567.5,67.4 672.2,67.5 675.2,71.9 675.3,122.0" fill="none" stroke="#000" stroke-width="1.2" stroke-linejoin="round"/>
<line x1="567.5" y1="73.4" x2="673.8" y2="73.0" stroke="#000" stroke-width="1.2"/>
<line x1="567.6" y1="121.8" x2="675.3" y2="122.0" stroke="#000" stroke-width="1.3"/>
<line x1="596.5" y1="67.4" x2="596.5" y2="73.4" stroke="#000" stroke-width="1.8"/>
<line x1="642.0" y1="67.5" x2="642.0" y2="73.2" stroke="#000" stroke-width="1.8"/>
<line x1="658.9" y1="73.0" x2="659.2" y2="122.0" stroke="#000" stroke-width="1.2"/>
<line x1="663.0" y1="77.1" x2="670.4" y2="77.1" stroke="#000" stroke-width="1.2"/>
<line x1="663.0" y1="80.0" x2="670.4" y2="80.0" stroke="#000" stroke-width="1.2"/>
<line x1="576.2" y1="73.4" x2="576.2" y2="81.3" stroke="#000" stroke-width="1.0"/>
<line x1="571.3" y1="75.6" x2="576.2" y2="75.6" stroke="#000" stroke-width="1.0"/>
<line x1="571.3" y1="78.1" x2="576.2" y2="78.1" stroke="#000" stroke-width="1.0"/>
<line x1="571.3" y1="80.4" x2="576.2" y2="80.4" stroke="#000" stroke-width="1.0"/>
<path d="M576.2,81.3 Q575.8,82.8 573.3,83.4 L573.3,121.8" fill="none" stroke="#000" stroke-width="1"/>
<polyline points="626.5,82.4 626.5,79.7 610.3,79.7 610.3,89.2 626.5,89.2 626.5,86.2" fill="none" stroke="#000" stroke-width="1.0" stroke-linejoin="round"/>
<circle cx="541.9" cy="57.3" r="12.5" fill="none" stroke="#000" stroke-width="1.0"/>
<line x1="529.4" y1="57.3" x2="554.4" y2="57.3" stroke="#000" stroke-width="0.7"/>
<text x="538.3" y="55.0" font-size="10.50" font-weight="bold" letter-spacing="3.15" textLength="9.4" lengthAdjust="spacingAndGlyphs">13</text>
<text x="538.3" y="67.0" font-size="10.50" font-weight="bold" letter-spacing="3.15" textLength="9.4" lengthAdjust="spacingAndGlyphs">12</text>
<polyline points="554.4,57.5 591.7,58.5 593.6,66.9" fill="none" stroke="#000" stroke-width="0.7" stroke-linejoin="round"/>
<circle cx="524.8" cy="82.5" r="12.5" fill="none" stroke="#000" stroke-width="1.0"/>
<line x1="512.3" y1="82.5" x2="537.3" y2="82.5" stroke="#000" stroke-width="0.7"/>
<text x="523.1" y="80.0" font-size="10.50" font-weight="bold" letter-spacing="3.15" textLength="5.3" lengthAdjust="spacingAndGlyphs">1</text>
<text x="523.1" y="93.0" font-size="10.50" font-weight="bold" letter-spacing="3.15" textLength="5.5" lengthAdjust="spacingAndGlyphs">4</text>
<polyline points="537.3,83.0 560.3,83.3 567.4,80.2" fill="none" stroke="#000" stroke-width="0.7" stroke-linejoin="round"/>
<circle cx="543.6" cy="106.4" r="12.5" fill="none" stroke="#000" stroke-width="1.0"/>
<line x1="531.1" y1="106.4" x2="556.1" y2="106.4" stroke="#000" stroke-width="0.7"/>
<text x="540.0" y="104.0" font-size="10.50" font-weight="bold" letter-spacing="3.15" textLength="9.4" lengthAdjust="spacingAndGlyphs">15</text>
<text x="540.0" y="116.0" font-size="10.50" font-weight="bold" letter-spacing="3.15" textLength="9.4" lengthAdjust="spacingAndGlyphs">13</text>
<polyline points="556.1,106.0 566.3,105.5 613.7,85.0" fill="none" stroke="#000" stroke-width="0.7" stroke-linejoin="round"/>
<circle cx="683.2" cy="53.4" r="12.5" fill="none" stroke="#000" stroke-width="1.0"/>
<line x1="670.7" y1="53.4" x2="695.7" y2="53.4" stroke="#000" stroke-width="0.7"/>
<text x="681.6" y="51.0" font-size="10.50" font-weight="bold" letter-spacing="3.15" textLength="5.5" lengthAdjust="spacingAndGlyphs">3</text>
<text x="681.6" y="64.0" font-size="10.50" font-weight="bold" letter-spacing="3.15" textLength="5.5" lengthAdjust="spacingAndGlyphs">6</text>
<line x1="671.4" y1="57.7" x2="662.6" y2="67.3" stroke="#000" stroke-width="0.7"/>
<circle cx="692.0" cy="136.9" r="12.5" fill="none" stroke="#000" stroke-width="1.0"/>
<line x1="679.5" y1="136.9" x2="704.5" y2="136.9" stroke="#000" stroke-width="0.7"/>
<text x="690.4" y="135.0" font-size="10.50" font-weight="bold" letter-spacing="3.15" textLength="5.5" lengthAdjust="spacingAndGlyphs">4</text>
<text x="690.4" y="147.0" font-size="10.50" font-weight="bold" letter-spacing="3.15" textLength="5.5" lengthAdjust="spacingAndGlyphs">6</text>
<line x1="680.7" y1="131.9" x2="670.7" y2="122.6" stroke="#000" stroke-width="0.7"/>
<circle cx="545.8" cy="138.9" r="12.5" fill="none" stroke="#000" stroke-width="1.0"/>
<line x1="533.3" y1="138.9" x2="558.3" y2="138.9" stroke="#000" stroke-width="0.7"/>
<text x="544.1" y="137.0" font-size="10.50" font-weight="bold" letter-spacing="3.15" textLength="5.5" lengthAdjust="spacingAndGlyphs">2</text>
<text x="544.1" y="149.0" font-size="10.50" font-weight="bold" letter-spacing="3.15" textLength="5.5" lengthAdjust="spacingAndGlyphs">4</text>
<line x1="557.3" y1="133.8" x2="568.0" y2="121.8" stroke="#000" stroke-width="0.7"/>
<line x1="677.0" y1="67.3" x2="708.4" y2="67.3" stroke="#000" stroke-width="0.6"/>
<line x1="677.0" y1="121.9" x2="709.5" y2="121.8" stroke="#000" stroke-width="0.6"/>
<line x1="704.4" y1="63.0" x2="704.8" y2="125.6" stroke="#000" stroke-width="0.6"/>
<line x1="702.2" y1="69.5" x2="706.6" y2="65.1" stroke="#000" stroke-width="0.7"/>
<line x1="702.6" y1="124.0" x2="707.0" y2="119.6" stroke="#000" stroke-width="0.7"/>
<text transform="translate(703.0,104.2) rotate(-90)" x="0" y="0" font-size="9.78" font-weight="bold" letter-spacing="1.47" textLength="19.3" lengthAdjust="spacingAndGlyphs">2030</text>
<line x1="568.2" y1="122.0" x2="568.4" y2="144.4" stroke="#000" stroke-width="0.6"/>
<line x1="674.8" y1="122.0" x2="674.8" y2="144.4" stroke="#000" stroke-width="0.6"/>
<line x1="565.5" y1="141.3" x2="677.0" y2="141.3" stroke="#000" stroke-width="0.6"/>
<line x1="566.2" y1="143.5" x2="570.6" y2="139.1" stroke="#000" stroke-width="0.7"/>
<line x1="672.6" y1="143.5" x2="677.0" y2="139.1" stroke="#000" stroke-width="0.7"/>
<text x="611.0" y="139.0" font-size="9.50" font-weight="bold" letter-spacing="1.90" textLength="22.6" lengthAdjust="spacingAndGlyphs">3995</text>
<text font-weight="bold"><tspan x="559.2" y="172.0" font-size="10.94" letter-spacing="1.64" textLength="25.3" lengthAdjust="spacingAndGlyphs">ЦР2л</tspan> <tspan x="586.8" y="170.0" font-size="10.94" textLength="4.3" lengthAdjust="spacingAndGlyphs">-</tspan> <tspan x="594.8" y="172.0" font-size="11.80" letter-spacing="1.77" textLength="12.8" lengthAdjust="spacingAndGlyphs">40</tspan> <tspan x="612.5" y="172.0" font-size="11.51" letter-spacing="1.73" textLength="9.6" lengthAdjust="spacingAndGlyphs">19</tspan> <tspan x="626.6" y="172.0" font-size="10.94" textLength="4.6" lengthAdjust="spacingAndGlyphs">3</tspan></text>
<polyline points="569.0,231.8 568.8,189.8 674.2,190.8 674.5,233.0" fill="none" stroke="#000" stroke-width="1.2" stroke-linejoin="round"/>
<line x1="569.0" y1="231.8" x2="674.5" y2="233.0" stroke="#000" stroke-width="1.3"/>
<line x1="595.5" y1="183.5" x2="595.5" y2="190.0" stroke="#000" stroke-width="1.8"/>
<line x1="641.6" y1="184.6" x2="641.6" y2="190.4" stroke="#000" stroke-width="1.8"/>
<line x1="659.5" y1="190.6" x2="659.6" y2="232.8" stroke="#000" stroke-width="1.2"/>
<line x1="663.3" y1="193.8" x2="670.0" y2="193.8" stroke="#000" stroke-width="1.2"/>
<line x1="663.3" y1="198.1" x2="670.0" y2="198.1" stroke="#000" stroke-width="1.2"/>
<line x1="578.1" y1="189.8" x2="578.1" y2="197.8" stroke="#000" stroke-width="1.0"/>
<line x1="571.9" y1="192.4" x2="578.1" y2="192.4" stroke="#000" stroke-width="1.0"/>
<line x1="571.9" y1="194.9" x2="578.1" y2="194.9" stroke="#000" stroke-width="1.0"/>
<line x1="571.9" y1="197.2" x2="578.1" y2="197.2" stroke="#000" stroke-width="1.0"/>
<path d="M578.1,197.8 Q577.5,199.8 573.4,200.6 L573.5,231.8" fill="none" stroke="#000" stroke-width="1"/>
<polygon points="610.2,196.4 625.7,196.4 625.7,205.2 610.2,205.2" fill="none" stroke="#000" stroke-width="1.0" stroke-linejoin="round"/>
<circle cx="541.8" cy="184.2" r="12.6" fill="none" stroke="#000" stroke-width="1.0"/>
<line x1="529.2" y1="184.2" x2="595.5" y2="184.2" stroke="#000" stroke-width="0.7"/>
<text x="538.2" y="182.0" font-size="10.50" font-weight="bold" letter-spacing="3.15" textLength="9.4" lengthAdjust="spacingAndGlyphs">14</text>
<text x="538.2" y="194.0" font-size="10.50" font-weight="bold" letter-spacing="3.15" textLength="9.4" lengthAdjust="spacingAndGlyphs">12</text>
<circle cx="540.0" cy="211.1" r="12.6" fill="none" stroke="#000" stroke-width="1.0"/>
<line x1="527.4" y1="211.1" x2="552.6" y2="211.1" stroke="#000" stroke-width="0.7"/>
<text x="536.4" y="209.0" font-size="10.50" font-weight="bold" letter-spacing="3.15" textLength="9.4" lengthAdjust="spacingAndGlyphs">1б</text>
<text x="538.4" y="221.0" font-size="10.50" font-weight="bold" letter-spacing="3.15" textLength="5.5" lengthAdjust="spacingAndGlyphs">5</text>
<line x1="551.5" y1="206.4" x2="569.0" y2="197.1" stroke="#000" stroke-width="0.7"/>
<circle cx="529.5" cy="236.7" r="12.6" fill="none" stroke="#000" stroke-width="1.0"/>
<line x1="516.9" y1="236.7" x2="542.1" y2="236.7" stroke="#000" stroke-width="0.7"/>
<text x="525.9" y="235.0" font-size="10.50" font-weight="bold" letter-spacing="3.15" textLength="9.4" lengthAdjust="spacingAndGlyphs">15</text>
<text x="525.9" y="247.0" font-size="10.50" font-weight="bold" letter-spacing="3.15" textLength="9.4" lengthAdjust="spacingAndGlyphs">13</text>
<line x1="541.6" y1="233.2" x2="610.2" y2="205.2" stroke="#000" stroke-width="0.7"/>
<circle cx="546.5" cy="258.4" r="12.4" fill="none" stroke="#000" stroke-width="1.0"/>
<line x1="534.1" y1="258.4" x2="586.8" y2="258.4" stroke="#000" stroke-width="0.7"/>
<text x="544.9" y="256.0" font-size="10.50" font-weight="bold" letter-spacing="3.15" textLength="5.5" lengthAdjust="spacingAndGlyphs">2</text>
<text x="544.9" y="268.0" font-size="10.50" font-weight="bold" letter-spacing="3.15" textLength="5.5" lengthAdjust="spacingAndGlyphs">4</text>
<line x1="586.8" y1="258.4" x2="572.4" y2="232.0" stroke="#000" stroke-width="0.7"/>
<circle cx="673.1" cy="172.8" r="12.2" fill="none" stroke="#000" stroke-width="1.0"/>
<line x1="660.9" y1="172.4" x2="692.3" y2="173.5" stroke="#000" stroke-width="0.7"/>
<text x="669.5" y="171.0" font-size="10.50" font-weight="bold" letter-spacing="3.15" textLength="9.4" lengthAdjust="spacingAndGlyphs">3б</text>
<text x="671.5" y="183.0" font-size="10.50" font-weight="bold" letter-spacing="3.15" textLength="5.5" lengthAdjust="spacingAndGlyphs">5</text>
<line x1="692.3" y1="173.5" x2="678.6" y2="188.6" stroke="#000" stroke-width="0.7"/>
<circle cx="692.8" cy="254.3" r="12.2" fill="none" stroke="#000" stroke-width="1.0"/>
<line x1="680.6" y1="254.3" x2="705.0" y2="254.3" stroke="#000" stroke-width="0.7"/>
<text x="691.1" y="252.0" font-size="10.50" font-weight="bold" letter-spacing="3.15" textLength="5.5" lengthAdjust="spacingAndGlyphs">4</text>
<text x="691.1" y="264.0" font-size="10.50" font-weight="bold" letter-spacing="3.15" textLength="5.5" lengthAdjust="spacingAndGlyphs">6</text>
<line x1="682.0" y1="248.4" x2="669.4" y2="233.5" stroke="#000" stroke-width="0.7"/>
<line x1="675.7" y1="190.8" x2="707.1" y2="191.0" stroke="#000" stroke-width="0.6"/>
<line x1="675.7" y1="233.2" x2="708.0" y2="233.6" stroke="#000" stroke-width="0.6"/>
<line x1="703.0" y1="185.9" x2="703.4" y2="237.2" stroke="#000" stroke-width="0.6"/>
<line x1="700.8" y1="193.2" x2="705.2" y2="188.8" stroke="#000" stroke-width="0.7"/>
<line x1="701.2" y1="235.7" x2="705.6" y2="231.3" stroke="#000" stroke-width="0.7"/>
<text transform="translate(701.0,220.4) rotate(-90)" x="0" y="0" font-size="9.50" font-weight="bold" letter-spacing="1.42" textLength="17.0" lengthAdjust="spacingAndGlyphs">1900</text>
<line x1="568.8" y1="236.9" x2="568.9" y2="255.6" stroke="#000" stroke-width="0.6"/>
<line x1="673.4" y1="236.7" x2="673.2" y2="256.5" stroke="#000" stroke-width="0.6"/>
<line x1="565.9" y1="252.4" x2="675.5" y2="252.8" stroke="#000" stroke-width="0.6"/>
<line x1="566.7" y1="254.6" x2="571.1" y2="250.2" stroke="#000" stroke-width="0.7"/>
<line x1="671.1" y1="255.0" x2="675.5" y2="250.6" stroke="#000" stroke-width="0.7"/>
<text x="611.6" y="251.0" font-size="9.78" font-weight="bold" letter-spacing="1.96" textLength="22.8" lengthAdjust="spacingAndGlyphs">3995</text>
</svg>
</body></html>
